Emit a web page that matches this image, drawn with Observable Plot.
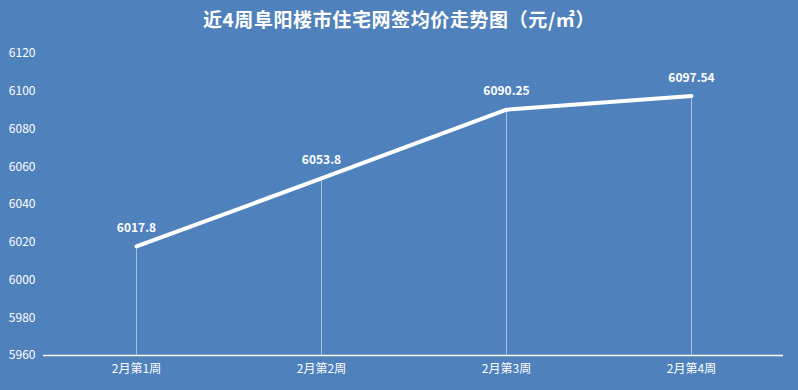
<!DOCTYPE html>
<html><head><meta charset="utf-8">
<script src="https://cdn.jsdelivr.net/npm/d3@7"></script>
<script src="https://cdn.jsdelivr.net/npm/@observablehq/plot@0.6"></script>
<style>
html,body{margin:0;padding:0;background:#4f81bd;width:798px;height:390px;overflow:hidden}
#title{height:35px;padding-top:5px;line-height:42px;text-align:center;color:#fff;font:bold 19px "Noto Sans CJK SC",sans-serif;letter-spacing:0.6px}
</style></head><body>
<div id="title">近4周阜阳楼市住宅网签均价走势图（元/㎡）</div>
<div id="chart"></div>
<script>
const weeks = ["2月第1周","2月第2周","2月第3周","2月第4周"];
const prices = [6017.8, 6053.8, 6090.25, 6097.54];
const labels = ["6017.8","6053.8","6090.25","6097.54"];
const yTicks = [5960,5980,6000,6020,6040,6060,6080,6100,6120];
const data = weeks.map((w,i)=>({week:w, price:prices[i], label:labels[i]}));

const plot = Plot.plot({
  width:798, height:350,
  marginLeft:43, marginRight:15, marginTop:13, marginBottom:35,
  style:{background:"transparent", color:"#fff", fontFamily:"'Noto Sans CJK SC',sans-serif", fontSize:"12px"},
  x:{type:"point", domain:weeks, padding:0.5, label:null, tickSize:0, tickPadding:9},
  y:{domain:[5960,6120], ticks:yTicks, label:null, tickSize:0, tickPadding:8, tickFormat:d=>String(d)},
  marks:[
    Plot.ruleX(data,{x:"week", y1:5960, y2:"price", stroke:"#fff", strokeWidth:1, strokeOpacity:0.5}),
    Plot.ruleY([5960],{stroke:"#fff", strokeWidth:1.5}),
    Plot.line(data,{x:"week", y:"price", stroke:"#fff", strokeWidth:4}),
    Plot.text(data,{x:"week", y:"price", text:"label", dy:-18, fill:"#fff", fontWeight:"bold", fontSize:12})
  ]
});
document.getElementById("chart").appendChild(plot);
</script>
</body></html>
